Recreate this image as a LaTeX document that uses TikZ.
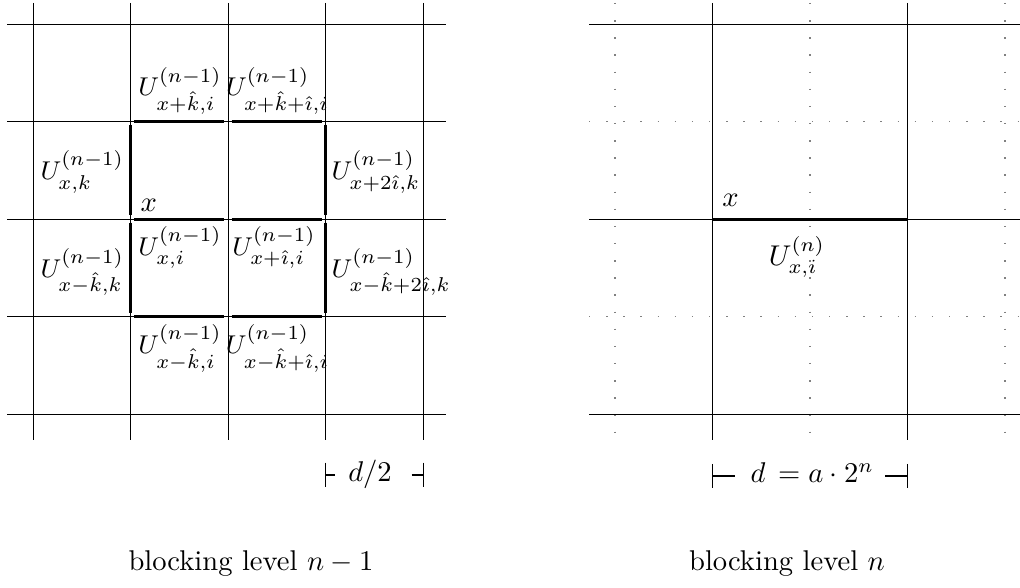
\documentclass[tikz,border=0pt]{standalone}
\usepackage{amsmath}
\begin{document}
\begin{tikzpicture}[x=0.35pt,y=-0.35pt,
  gridline/.style={line width=0.4pt,black},
  dotline/.style={line width=0.5pt,gray,dash pattern=on 0.5pt off 5.5pt},
  link/.style={line width=1pt,black},
  lab/.style={inner sep=0pt},
  ulab/.style={inner sep=0pt,font=\fontsize{9.3}{11}\selectfont},
  bar/.style={line width=0.4pt,black}]
\useasboundingbox (0,0) rectangle (1020,588);
% ---------------- left grid ----------------
\foreach \xx in {33.5,130.5,228.5,325.5,423.5}
  \draw[gridline] (\xx,3) -- (\xx,440);
\foreach \yy in {24.5,121.5,219.5,316.5,414.5}
  \draw[gridline] (7,\yy) -- (446,\yy);
% thick links
\draw[link] (134,121.5) -- (224.3,121.5);
\draw[link] (231.7,121.5) -- (322,121.5);
\draw[link] (134,219.5) -- (224.3,219.5);
\draw[link] (231.7,219.5) -- (322,219.5);
\draw[link] (134,316.5) -- (224.3,316.5);
\draw[link] (231.7,316.5) -- (322,316.5);
\draw[link] (130.5,125) -- (130.5,215.5);
\draw[link] (130.5,222.7) -- (130.5,313.3);
\draw[link] (325.5,125) -- (325.5,215.5);
\draw[link] (325.5,222.7) -- (325.5,313.3);
% labels
\node[ulab,anchor=south] (ltop1) at (180,115) {$U^{(n-1)}_{x+\hat{k},i}$};
\node[ulab,anchor=south] (ltop2) at (277.5,115) {$U^{(n-1)}_{x+\hat{k}+\hat{\imath},i}$};
\node[ulab,anchor=east] (lleft1) at (124.5,172) {$U^{(n-1)}_{x,k}$};
\node[ulab,anchor=west] (lright1) at (331,172) {$U^{(n-1)}_{x+2\hat{\imath},k}$};
\node[lab,anchor=base west] (lx) at (140,211.7) {$x$};
\node[ulab,anchor=north] (lmid1) at (180,226) {$U^{(n-1)}_{x,i}$};
\node[ulab,anchor=north] (lmid2) at (274,226) {$U^{(n-1)}_{x+\hat{\imath},i}$};
\node[ulab,anchor=east] (lleft2) at (124.5,272) {$U^{(n-1)}_{x-\hat{k},k}$};
\node[ulab,anchor=west] (lright2) at (331,272) {$U^{(n-1)}_{x-\hat{k}+2\hat{\imath},k}$};
\node[ulab,anchor=north] (lbot1) at (180,324) {$U^{(n-1)}_{x-\hat{k},i}$};
\node[ulab,anchor=north] (lbot2) at (277.5,324) {$U^{(n-1)}_{x-\hat{k}+\hat{\imath},i}$};
% scale bar left
\draw[bar] (325.5,462.7) -- (325.5,487.3);
\draw[bar] (325.5,475) -- (335,475);
\draw[bar] (423.5,462.7) -- (423.5,487.3);
\draw[bar] (411.7,475) -- (423.5,475);
\node[lab,anchor=base] (dhalf) at (370,482) {$d/2$};
\node[lab,anchor=base] (lev1) at (251,571) {blocking level $n-1$};
% ---------------- right grid ----------------
\foreach \xx in {615,810,1005}
  \draw[dotline] (\xx,3) -- (\xx,440);
\foreach \yy in {121.7,316.7}
  \draw[dotline] (589,\yy) -- (1020,\yy);
\foreach \xx in {712.5,907.5}
  \draw[gridline] (\xx,3) -- (\xx,440);
\foreach \yy in {24.5,219.5,414.5}
  \draw[gridline] (589,\yy) -- (1020,\yy);
\draw[line width=1.1pt] (712.5,219.5) -- (907.5,219.5);
\node[lab,anchor=base west] (rx) at (721.7,206.7) {$x$};
\node[lab] (rU) at (797,257) {$U^{(n)}_{x,i}$};
% scale bar right
\draw[bar] (712.5,464) -- (712.5,488);
\draw[bar] (712.5,476) -- (735,476);
\draw[bar] (907.5,464) -- (907.5,488);
\draw[bar] (885,476) -- (907.5,476);
\node[lab,anchor=base west] (dfull) at (750,483) {$d\,= a\cdot 2^{n}$};
\node[lab,anchor=base] (lev2) at (787,571) {blocking level $n$};
\end{tikzpicture}
\end{document}
